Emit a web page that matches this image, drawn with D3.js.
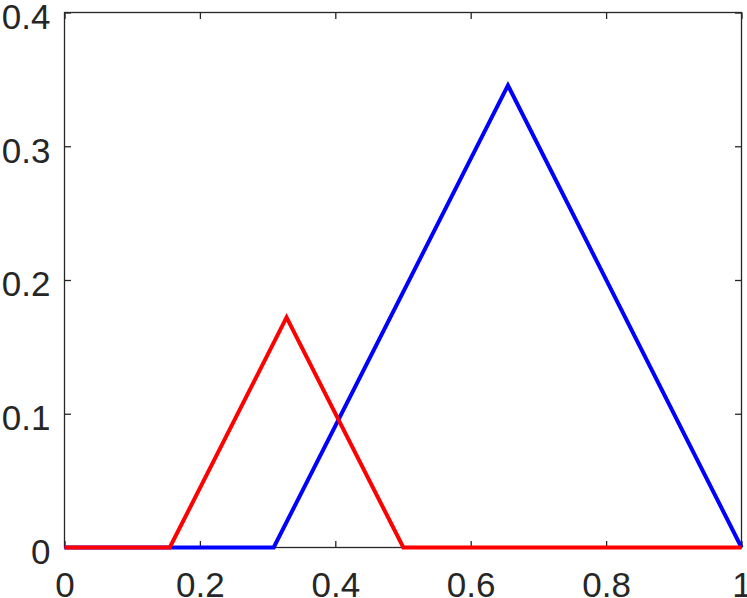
<!DOCTYPE html>
<html>
<head>
<meta charset="utf-8">
<script src="https://cdn.jsdelivr.net/npm/d3@7"></script>
<style>
  html, body { margin: 0; padding: 0; background: #fff; }
  svg { display: block; }
  .tick text { font-family: "Liberation Sans", Arial, sans-serif; font-size: 35px; fill: #262626; }
</style>
</head>
<body>
<svg id="chart" width="747" height="598"></svg>
<script>
// data
const blueX = [0, 0.309, 0.655, 1];
const blueY = [0, 0, 0.3455, 0];
const redX = [0, 0.1555, 0.328, 0.5005, 1];
const redY = [0, 0, 0.172, 0, 0];
const xTicks = [0, 0.2, 0.4, 0.6, 0.8, 1];
const yTicks = [0, 0.1, 0.2, 0.3, 0.4];

const svg = d3.select("#chart");
const plotL = 64.5, plotR = 741.5, plotT = 12.5, plotB = 547.5;

const x = d3.scaleLinear().domain([0, 1]).range([plotL, plotR]);
const y = d3.scaleLinear().domain([0, 0.4]).range([plotB, plotT]);

const fmt = d => (d === 0 || d === 1) ? String(d) : d3.format(".1f")(d);

// box
svg.append("rect")
  .attr("x", plotL).attr("y", plotT)
  .attr("width", plotR - plotL).attr("height", plotB - plotT)
  .attr("fill", "none").attr("stroke", "#262626").attr("stroke-width", 1.3);

// axes with inward ticks
const tk = 6.5;
const xAxis = svg.append("g").attr("transform", `translate(0,${plotB})`)
  .call(d3.axisBottom(x).tickValues(xTicks).tickFormat(fmt).tickSizeInner(-tk).tickSizeOuter(0).tickPadding(25));
const xTop = svg.append("g").attr("transform", `translate(0,${plotT})`)
  .call(d3.axisTop(x).tickValues(xTicks).tickFormat("").tickSizeInner(-tk).tickSizeOuter(0));
const yAxis = svg.append("g").attr("transform", `translate(${plotL},0)`)
  .call(d3.axisLeft(y).tickValues(yTicks).tickFormat(fmt).tickSizeInner(-tk).tickSizeOuter(0).tickPadding(14));
const yRight = svg.append("g").attr("transform", `translate(${plotR},0)`)
  .call(d3.axisRight(y).tickValues(yTicks).tickFormat("").tickSizeInner(-tk).tickSizeOuter(0));

[xAxis, xTop, yAxis, yRight].forEach(g => {
  g.select(".domain").remove();
  g.selectAll(".tick line").attr("stroke", "#262626").attr("stroke-width", 1.3);
});
xAxis.selectAll(".tick text").attr("dy", "0.71em");
yAxis.selectAll(".tick text").attr("dy", "0.45em");

const line = d3.line().x(d => x(d[0])).y(d => y(d[1]));

svg.append("path")
  .datum(d3.zip(blueX, blueY))
  .attr("d", line)
  .attr("fill", "none").attr("stroke", "#0000ff").attr("stroke-width", 4)
  .attr("stroke-linejoin", "miter");

svg.append("path")
  .datum(d3.zip(redX, redY))
  .attr("d", line)
  .attr("fill", "none").attr("stroke", "#ff0000").attr("stroke-width", 4)
  .attr("stroke-linejoin", "miter");
</script>
</body>
</html>
